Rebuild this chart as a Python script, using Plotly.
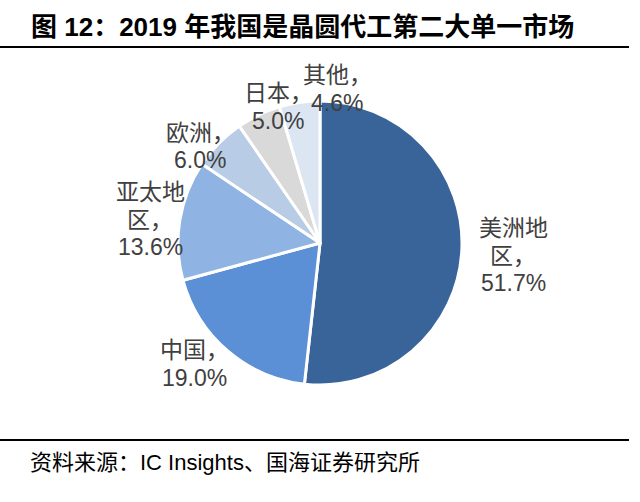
import plotly.graph_objects as go

# ---- data ----
regions = ["美洲地区", "中国", "亚太地区", "欧洲", "日本", "其他"]
shares = [51.7, 19.0, 13.6, 6.0, 5.0, 4.6]
colors = ["#38649A", "#5B8FD6", "#8FB4E3", "#B8CCE6", "#D9D9D9", "#DCE6F3"]
title_text = "图 12：2019 年我国是晶圆代工第二大单一市场"
source_text = "资料来源：IC Insights、国海证券研究所"

W, H = 640, 502
FONT = "Liberation Sans, Arial, Noto Sans CJK SC"

def px(x):
    return x / W

def py(y):
    return 1 - y / H

# pie geometry (pixels)
cx, cy, r = 320, 243, 142

fig = go.Figure(go.Pie(
    labels=regions,
    values=shares,
    sort=False,
    direction="clockwise",
    rotation=0,
    textinfo="none",
    hoverinfo="label+percent",
    marker=dict(colors=colors, line=dict(color="white", width=3)),
    domain=dict(x=[px(cx - r), px(cx + r)], y=[py(cy + r), py(cy - r)]),
    showlegend=False,
))

def label_lines(name, val):
    if len(name) > 3:
        lines = [name[:3], name[3:] + "，"]
    else:
        lines = [name + "，"]
    return lines + [f"{val:.1f}%"]

# (centre x, first-line y) in pixels for each label
label_pos = [(513, 228), (194, 350), (150, 192), (200, 133), (278, 93), (337, 75)]
line_gap = 27.5

annotations = []
for name, val, (lx, ly) in zip(regions, shares, label_pos):
    for i, t in enumerate(label_lines(name, val)):
        annotations.append(dict(
            x=px(lx), y=py(ly + i * line_gap), xref="paper", yref="paper",
            text=t, showarrow=False, xanchor="center", yanchor="middle",
            font=dict(family=FONT, size=23, color="#404040"),
        ))

annotations.append(dict(
    x=px(29), y=py(27), xref="paper", yref="paper", text=f"<b>{title_text}</b>",
    showarrow=False, xanchor="left", yanchor="middle",
    font=dict(family=FONT, size=26, color="#000000"),
))
annotations.append(dict(
    x=px(28), y=py(462), xref="paper", yref="paper", text=source_text,
    showarrow=False, xanchor="left", yanchor="middle",
    font=dict(family=FONT, size=22, color="#000000"),
))

shapes = [
    dict(type="line", xref="paper", yref="paper", x0=0, x1=px(629), y0=py(47), y1=py(47),
         line=dict(color="#000000", width=2)),
    dict(type="line", xref="paper", yref="paper", x0=0, x1=px(629), y0=py(440), y1=py(440),
         line=dict(color="#000000", width=2)),
]

fig.update_layout(
    width=W, height=H,
    margin=dict(l=0, r=0, t=0, b=0),
    paper_bgcolor="white", plot_bgcolor="white",
    annotations=annotations, shapes=shapes,
)

fig.write_html("out.html", config={"displayModeBar": False})

# remove the default page margin so the figure sits at the window origin
with open("out.html", "r", encoding="utf-8") as f:
    html = f.read()
html = html.replace("<head>", "<head><style>html,body{margin:0;padding:0;overflow:hidden;}</style>", 1)
with open("out.html", "w", encoding="utf-8") as f:
    f.write(html)
